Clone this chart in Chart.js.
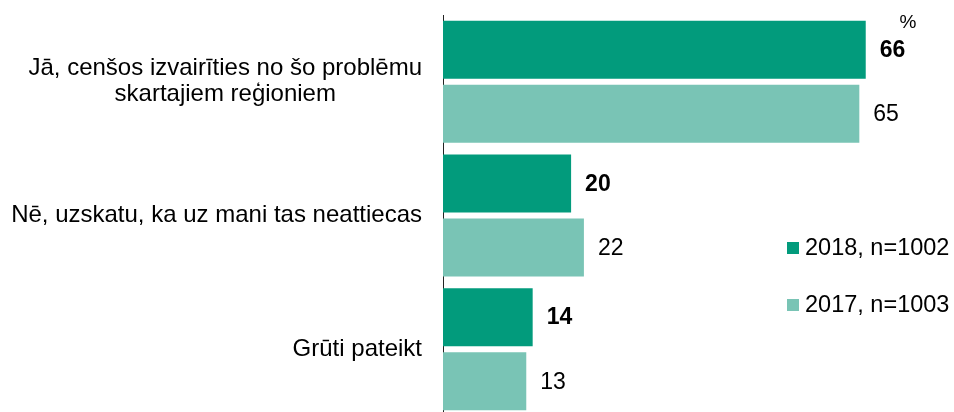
<!DOCTYPE html>
<html>
<head>
<meta charset="utf-8">
<script src="https://cdn.jsdelivr.net/npm/chart.js@4/dist/chart.umd.min.js"></script>
<style>
  html, body { margin: 0; padding: 0; background: #fff; overflow: hidden; }
  canvas { display: block; }
</style>
</head>
<body>
<canvas id="chart" width="954" height="417"></canvas>
<script>
const categories = [
  ["Jā, cenšos izvairīties no šo problēmu", "skartajiem reģioniem"],
  ["Nē, uzskatu, ka uz mani tas neattiecas"],
  ["Grūti pateikt"]
];
const values2018 = [66, 20, 14];
const values2017 = [65, 22, 13];
const seriesLabels = ["2018, n=1002", "2017, n=1003"];
const unitLabel = "%";

const FONT = "'Liberation Sans', Arial, sans-serif";
const AXIS_X = 443;

// category text: right-aligned block, lines centred inside it
const categoryLabels = {
  id: "categoryLabels",
  afterDraw(chart) {
    const ctx = chart.ctx;
    const yScale = chart.scales.y;
    ctx.save();
    ctx.font = `24px ${FONT}`;
    ctx.fillStyle = "#000";
    ctx.textAlign = "center";
    ctx.textBaseline = "middle";
    chart.data.labels.forEach((lines, i) => {
      const cy = yScale.getPixelForValue(i);
      const w = Math.max(...lines.map(l => ctx.measureText(l).width));
      const cx = AXIS_X - 21 - w / 2;
      const lh = 26;
      lines.forEach((line, j) => {
        ctx.fillText(line, cx, cy + (j - (lines.length - 1) / 2) * lh);
      });
    });
    ctx.restore();
  }
};

// numbers at the end of each bar, bold for the newest wave
const valueLabels = {
  id: "valueLabels",
  afterDatasetsDraw(chart) {
    const ctx = chart.ctx;
    ctx.save();
    ctx.fillStyle = "#000";
    ctx.textAlign = "left";
    ctx.textBaseline = "middle";
    chart.data.datasets.forEach((ds, di) => {
      ctx.font = (di === 0 ? "bold " : "") + `23px ${FONT}`;
      chart.getDatasetMeta(di).data.forEach((bar, i) => {
        ctx.fillText(ds.data[i], bar.x + 14, bar.y + 1);
      });
    });
    ctx.font = `19px ${FONT}`;
    ctx.textAlign = "center";
    ctx.fillText(unitLabel, 908, 23);
    ctx.restore();
  }
};

const sideLegend = {
  id: "sideLegend",
  afterDraw(chart) {
    const ctx = chart.ctx;
    const rows = [248, 305];
    ctx.save();
    ctx.font = `23.5px ${FONT}`;
    ctx.textAlign = "left";
    ctx.textBaseline = "middle";
    chart.data.datasets.forEach((ds, i) => {
      ctx.fillStyle = ds.backgroundColor;
      ctx.fillRect(787, rows[i] - 6, 12, 12);
      ctx.fillStyle = "#000";
      ctx.fillText(ds.label, 805, rows[i] + 1);
    });
    ctx.restore();
  }
};

new Chart(document.getElementById("chart"), {
  type: "bar",
  data: {
    labels: categories,
    datasets: [
      { label: seriesLabels[0], data: values2018, backgroundColor: "#029B7C" },
      { label: seriesLabels[1], data: values2017, backgroundColor: "#79C4B5" }
    ]
  },
  options: {
    indexAxis: "y",
    responsive: false,
    animation: false,
    categoryPercentage: 0.958,
    barPercentage: 0.906,
    layout: { padding: { top: 15, right: 5, bottom: 1, left: 0 } },
    plugins: {
      legend: { display: false },
      tooltip: { enabled: false }
    },
    scales: {
      x: {
        display: false,
        min: 0,
        max: 79
      },
      y: {
        afterFit(scale) { scale.width = AXIS_X; },
        grid: { display: false, drawTicks: false },
        border: { display: true, color: "#222", width: 1 },
        ticks: { display: false }
      }
    }
  },
  plugins: [categoryLabels, valueLabels, sideLegend]
});
</script>
</body>
</html>
